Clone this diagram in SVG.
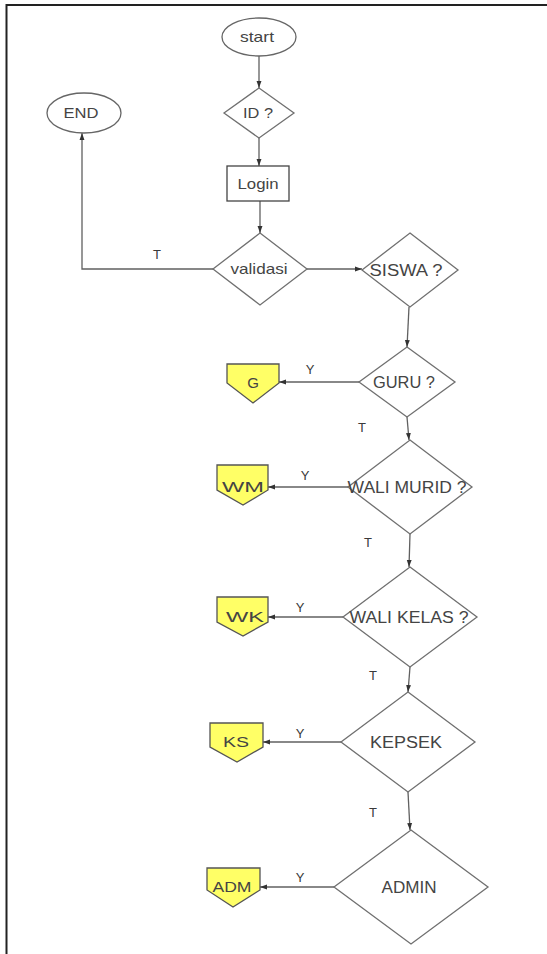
<svg xmlns="http://www.w3.org/2000/svg" width="547" height="954" viewBox="0 0 547 954">
  <style>
    .shape { fill: #ffffff; stroke: #707070; stroke-width: 1.3; }
    .term { fill: #ffffff; stroke: #666666; stroke-width: 1.3; }
    .box { fill: #ffffff; stroke: #444444; stroke-width: 1.3; }
    .conn { fill: #ffff66; stroke: #555555; stroke-width: 1.3; }
    .lbl { font-family: "Liberation Sans", Arial, sans-serif; font-size: 15px; fill: #444444; text-anchor: middle; }
    .big { font-size: 16px; }
    .edge { font-family: "Liberation Sans", Arial, sans-serif; font-size: 13px; fill: #3a3a3a; text-anchor: middle; }
    .line { fill: none; stroke: #606060; stroke-width: 1.3; }
  </style>
  <defs>
    <marker id="arrow" viewBox="0 0 10 10" refX="10" refY="5" markerWidth="7" markerHeight="7" orient="auto" markerUnits="userSpaceOnUse">
      <path d="M0,1.5 L10,5 L0,8.5 Z" fill="#333333"/>
    </marker>
  </defs>

  <rect x="0" y="0" width="547" height="954" fill="#ffffff"/>
  <!-- page frame: top and left edges -->
  <path d="M6.5,954 L6.5,5 L547,5" fill="none" stroke="#222222" stroke-width="2"/>

  <g id="connectors">
    <line class="line" x1="259" y1="56" x2="259" y2="88" marker-end="url(#arrow)"/>
    <line class="line" x1="259" y1="138" x2="259" y2="166" marker-end="url(#arrow)"/>
    <line class="line" x1="260" y1="201" x2="260" y2="233" marker-end="url(#arrow)"/>
    <polyline class="line" points="213,269 82,269 82,133" marker-end="url(#arrow)"/>
    <line class="line" x1="307" y1="269" x2="362" y2="269" marker-end="url(#arrow)"/>
    <line class="line" x1="409" y1="307" x2="407" y2="347" marker-end="url(#arrow)"/>
    <line class="line" x1="359" y1="382" x2="279" y2="382" marker-end="url(#arrow)"/>
    <line class="line" x1="407" y1="417" x2="409" y2="440" marker-end="url(#arrow)"/>
    <line class="line" x1="348" y1="487" x2="268" y2="487" marker-end="url(#arrow)"/>
    <line class="line" x1="410" y1="534" x2="409" y2="567" marker-end="url(#arrow)"/>
    <line class="line" x1="343" y1="617" x2="268" y2="617" marker-end="url(#arrow)"/>
    <line class="line" x1="410" y1="667" x2="408" y2="692" marker-end="url(#arrow)"/>
    <line class="line" x1="341" y1="742" x2="263" y2="742" marker-end="url(#arrow)"/>
    <line class="line" x1="408" y1="792" x2="410" y2="830" marker-end="url(#arrow)"/>
    <line class="line" x1="334" y1="887" x2="260" y2="887" marker-end="url(#arrow)"/>

    <text class="edge" x="157" y="259">T</text>
    <text class="edge" x="310" y="374">Y</text>
    <text class="edge" x="362" y="432">T</text>
    <text class="edge" x="305" y="480">Y</text>
    <text class="edge" x="368" y="547">T</text>
    <text class="edge" x="300" y="612">Y</text>
    <text class="edge" x="373" y="680">T</text>
    <text class="edge" x="300" y="738">Y</text>
    <text class="edge" x="373" y="817">T</text>
    <text class="edge" x="300" y="882">Y</text>
  </g>

  <g id="start">
    <ellipse class="term" cx="259" cy="37" rx="37" ry="19"/>
    <text class="lbl" x="257" y="42" textLength="34" lengthAdjust="spacingAndGlyphs">start</text>
  </g>

  <g id="end">
    <ellipse class="term" cx="84" cy="113" rx="37" ry="20"/>
    <text class="lbl" x="81" y="118" textLength="35" lengthAdjust="spacingAndGlyphs">END</text>
  </g>

  <g id="id-check">
    <polygon class="shape" points="259,88 294,113 259,138 224,113"/>
    <text class="lbl" x="258" y="118" textLength="30" lengthAdjust="spacingAndGlyphs">ID ?</text>
  </g>

  <g id="login">
    <rect class="box" x="227" y="166" width="62" height="35"/>
    <text class="lbl" x="258" y="189" textLength="41" lengthAdjust="spacingAndGlyphs">Login</text>
  </g>

  <g id="validasi">
    <polygon class="shape" points="260,233 307,269 260,305 213,269"/>
    <text class="lbl" x="259" y="274" textLength="57" lengthAdjust="spacingAndGlyphs">validasi</text>
  </g>

  <g id="siswa">
    <polygon class="shape" points="410,233 458,270 410,307 362,270"/>
    <text class="lbl big" x="406" y="276" textLength="73" lengthAdjust="spacingAndGlyphs">SISWA ?</text>
  </g>

  <g id="guru">
    <polygon class="shape" points="407,347 455,382 407,417 359,382"/>
    <text class="lbl big" x="404" y="388" textLength="62" lengthAdjust="spacingAndGlyphs">GURU ?</text>
  </g>

  <g id="g">
    <polygon class="conn" points="227,364 279,364 279,383 253,403 227,383"/>
    <text class="lbl" x="253" y="388">G</text>
  </g>

  <g id="wali-murid">
    <polygon class="shape" points="410,440 472,487 410,534 348,487"/>
    <text class="lbl big" x="407" y="493" textLength="119" lengthAdjust="spacingAndGlyphs">WALI MURID ?</text>
  </g>

  <g id="wm">
    <polygon class="conn" points="217,465 268,465 268,490 243,505 217,490"/>
    <text class="lbl" x="243" y="492" textLength="42" lengthAdjust="spacingAndGlyphs">WM</text>
  </g>

  <g id="wali-kelas">
    <polygon class="shape" points="410,567 477,617 410,667 343,617"/>
    <text class="lbl big" x="409" y="623" textLength="119" lengthAdjust="spacingAndGlyphs">WALI KELAS ?</text>
  </g>

  <g id="wk">
    <polygon class="conn" points="217,597 268,597 268,622 243,636 217,622"/>
    <text class="lbl" x="245" y="622" textLength="38" lengthAdjust="spacingAndGlyphs">WK</text>
  </g>

  <g id="kepsek">
    <polygon class="shape" points="408,692 475,742 408,792 341,742"/>
    <text class="lbl big" x="406" y="748" textLength="72" lengthAdjust="spacingAndGlyphs">KEPSEK</text>
  </g>

  <g id="ks">
    <polygon class="conn" points="210,723 263,723 263,747 237,762 210,747"/>
    <text class="lbl" x="236" y="747" textLength="26" lengthAdjust="spacingAndGlyphs">KS</text>
  </g>

  <g id="admin">
    <polygon class="shape" points="411,830 488,887 411,944 334,887"/>
    <text class="lbl big" x="409" y="893" textLength="55" lengthAdjust="spacingAndGlyphs">ADMIN</text>
  </g>

  <g id="adm">
    <polygon class="conn" points="207,868 260,868 260,890 233,907 207,890"/>
    <text class="lbl" x="232" y="892" textLength="39" lengthAdjust="spacingAndGlyphs">ADM</text>
  </g>
</svg>
